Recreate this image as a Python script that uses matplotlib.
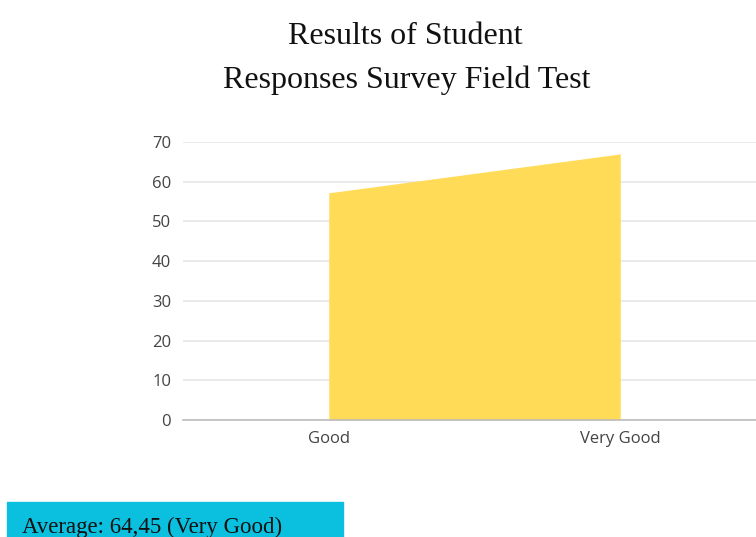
import matplotlib
matplotlib.use("Agg")
import matplotlib.pyplot as plt
from matplotlib.patches import Rectangle

categories = ["Good", "Very Good"]
values = [57.2, 67.0]
yticks = [0, 10, 20, 30, 40, 50, 60, 70]
title_lines = ["Results of Student", "Responses Survey Field Test"]
note = "Average: 64,45 (Very Good)"

fig = plt.figure(figsize=(7.56, 5.37), dpi=100)
ax = fig.add_axes([183/756, 1-420/537, (766-183)/756, (420-142)/537])

x = [0.5, 1.5]
ax.fill_between(x, values, 0, color="#FFDB58", linewidth=0, zorder=2)
ax.set_xlim(0, 2)
ax.set_ylim(0, 70)
ax.set_yticks(yticks)
ax.set_xticks(x)
ax.set_xticklabels(categories)
ax.grid(axis="y", color="#E6E6E6", linewidth=1.2, zorder=0)
for s in ["top", "right", "left"]:
    ax.spines[s].set_visible(False)
ax.spines["bottom"].set_color("#BDBDBD")
ax.spines["bottom"].set_linewidth(1.2)
ax.spines["bottom"].set_zorder(3)
ax.tick_params(axis="both", length=0, labelsize=12, labelcolor="#444444", pad=8)
ax.tick_params(axis="y", pad=8.5)
for lab in ax.get_xticklabels() + ax.get_yticklabels():
    lab.set_family("Open Sans")

fig.text(405/756, 1-44/537, title_lines[0], ha="center", va="baseline",
         family="Liberation Serif", fontsize=23, color="#111111")
fig.text(407/756, 1-88/537, title_lines[1], ha="center", va="baseline",
         family="Liberation Serif", fontsize=23, color="#111111")

fig.patches.append(Rectangle((7/756, 0), (343-7)/756, (537-502)/537,
                             transform=fig.transFigure, color="#0BBFDF", zorder=0))
fig.text(22/756, 1-533/537, note, ha="left", va="baseline",
         family="Liberation Serif", fontsize=16.5, color="#111111")

fig.savefig("out.png", dpi=100)
